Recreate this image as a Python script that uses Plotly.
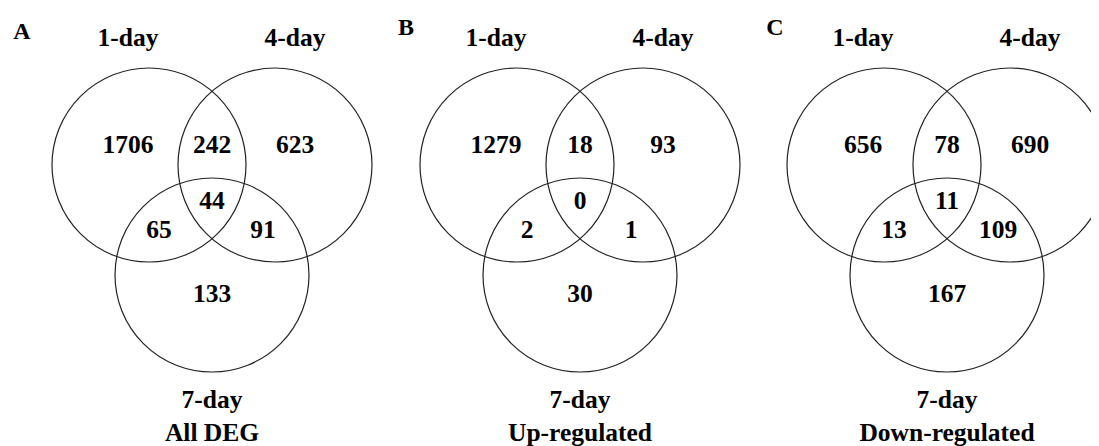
import plotly.graph_objects as go

# ---- data ----
panel_letters = ["A", "B", "C"]
panel_titles = ["All DEG", "Up-regulated", "Down-regulated"]
set_names = ["1-day", "4-day", "7-day"]
# region order: only1, 1&4, only4, 1&4&7, 1&7, 4&7, only7
region_names = ["1-day only", "1-day & 4-day", "4-day only", "all three",
                "1-day & 7-day", "4-day & 7-day", "7-day only"]
counts_all = [1706, 242, 623, 44, 65, 91, 133]
counts_up = [1279, 18, 93, 0, 2, 1, 30]
counts_down = [656, 78, 690, 11, 13, 109, 167]
panel_counts = [counts_all, counts_up, counts_down]

# ---- layout geometry (window pixel space) ----
W, H = 1099, 446
PAGE_MARGIN = 8  # default body margin of the html page
panel_dx = [0, 368, 735]
circle_cx = [149, 275, 212]
circle_cy = [165, 165, 275]
circle_r = 97
region_xy = [(128, 146.5), (212, 146.5), (295, 146.5), (212, 202.5),
             (159, 231.5), (263, 231.5), (212, 295.5)]
setlabel_xy = [(128, 39.5), (295, 39.5), (212, 402)]
title_xy = (212, 435)
letter_xy = [(22, 33), (406 - 368, 29), (775 - 735, 29)]

FONT = "Liberation Serif, Times New Roman, serif"
fig = go.Figure()
shapes = []
for p in range(3):
    dx = panel_dx[p]
    for k in range(3):
        cx = circle_cx[k] + dx
        cy = circle_cy[k]
        shapes.append(dict(type="circle", xref="x", yref="y",
                           x0=cx - circle_r, x1=cx + circle_r,
                           y0=cy - circle_r, y1=cy + circle_r,
                           line=dict(color="#222222", width=1.2)))
    xs = [x + dx for x, _ in region_xy]
    ys = [y for _, y in region_xy]
    fig.add_trace(go.Scatter(x=xs, y=ys, mode="text",
                             text=[str(v) for v in panel_counts[p]],
                             textposition="middle center",
                             textfont=dict(family=FONT, size=25.5, color="black", weight="bold"),
                             hovertext=region_names, showlegend=False))
    fig.add_trace(go.Scatter(x=[x + dx for x, _ in setlabel_xy] + [title_xy[0] + dx],
                             y=[y for _, y in setlabel_xy] + [title_xy[1]],
                             mode="text",
                             text=set_names + [panel_titles[p]],
                             textposition="middle center",
                             textfont=dict(family=FONT, size=25.5, color="black", weight="bold"),
                             showlegend=False))
    fig.add_trace(go.Scatter(x=[letter_xy[p][0] + dx], y=[letter_xy[p][1]],
                             mode="text", text=[panel_letters[p]],
                             textposition="middle center",
                             textfont=dict(family=FONT, size=24, color="black", weight="bold"),
                             showlegend=False))

fig.update_layout(width=W - PAGE_MARGIN, height=H - PAGE_MARGIN,
                  margin=dict(l=0, r=0, t=0, b=0),
                  paper_bgcolor="white", plot_bgcolor="white", shapes=shapes)
fig.update_xaxes(range=[PAGE_MARGIN, W], visible=False, fixedrange=True)
fig.update_yaxes(range=[H, PAGE_MARGIN], visible=False, fixedrange=True)
fig.write_html("out.html")
